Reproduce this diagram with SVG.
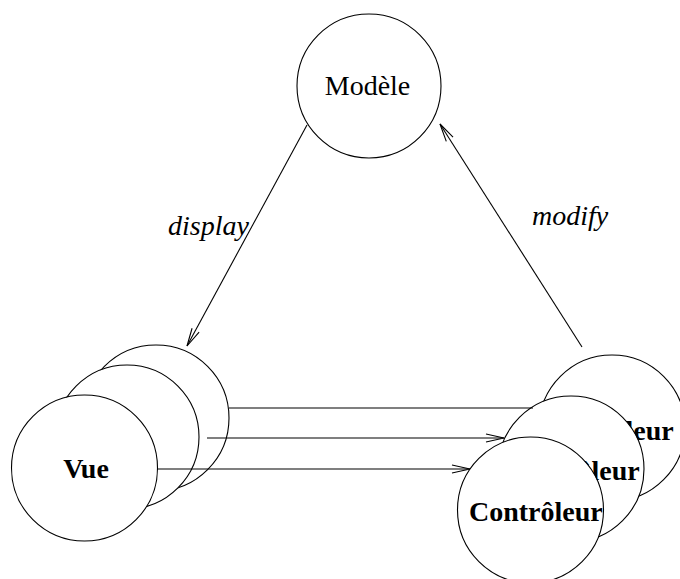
<svg xmlns="http://www.w3.org/2000/svg" width="680" height="579" viewBox="0 0 680 579">
<style>
  .n { fill: #fff; stroke: #000; stroke-width: 1.1; }
  .t { font-family: "Liberation Serif", "Times New Roman", serif; font-size: 28px; fill: #000; }
  .b { font-weight: bold; }
  .i { font-style: italic; }
  .c { fill: none; stroke: #000; stroke-width: 1.1; }
</style>
<defs>
  <marker id="ah" markerUnits="userSpaceOnUse" markerWidth="20" markerHeight="10" refX="18" refY="4" orient="auto" overflow="visible">
    <path d="M0,0 L18,4 L0,8" fill="none" stroke="#000" stroke-width="1.1"/>
  </marker>
</defs>
<rect width="680" height="579" fill="#fff"/>
<g id="modele">
  <circle class="n" cx="369" cy="86" r="72"/>
  <text class="t" x="367.5" y="95" text-anchor="middle">Modèle</text>
</g>
<g id="vue3">
  <circle class="n" cx="156" cy="418" r="73"/>
</g>
<g id="vue2">
  <circle class="n" cx="127" cy="437" r="72"/>
</g>
<g id="vue">
  <circle class="n" cx="84.5" cy="468" r="73"/>
  <text class="t b" x="86" y="478" text-anchor="middle">Vue</text>
</g>
<g id="controleur3">
  <circle class="n" cx="612" cy="428" r="73"/>
  <text class="t b" x="540" y="440">Contrôleur</text>
</g>
<g id="controleur2">
  <circle class="n" cx="571" cy="469" r="73"/>
  <text class="t b" x="506" y="480">Contrôleur</text>
</g>
<g id="controleur">
  <circle class="n" cx="530.5" cy="510" r="73"/>
  <text class="t b" x="469" y="521">Contrôleur</text>
</g>
<g id="connectors">
  <line class="c" x1="307" y1="125" x2="187" y2="346" marker-end="url(#ah)"/>
  <line class="c" x1="582" y1="347" x2="440" y2="124" marker-end="url(#ah)"/>
  <line class="c" x1="229" y1="408" x2="533" y2="408"/>
  <line class="c" x1="207" y1="438" x2="504" y2="438" marker-end="url(#ah)"/>
  <line class="c" x1="157" y1="469" x2="470" y2="469" marker-end="url(#ah)"/>
  <text class="t i" x="168" y="235">display</text>
  <text class="t i" x="532" y="225">modify</text>
</g>
</svg>
